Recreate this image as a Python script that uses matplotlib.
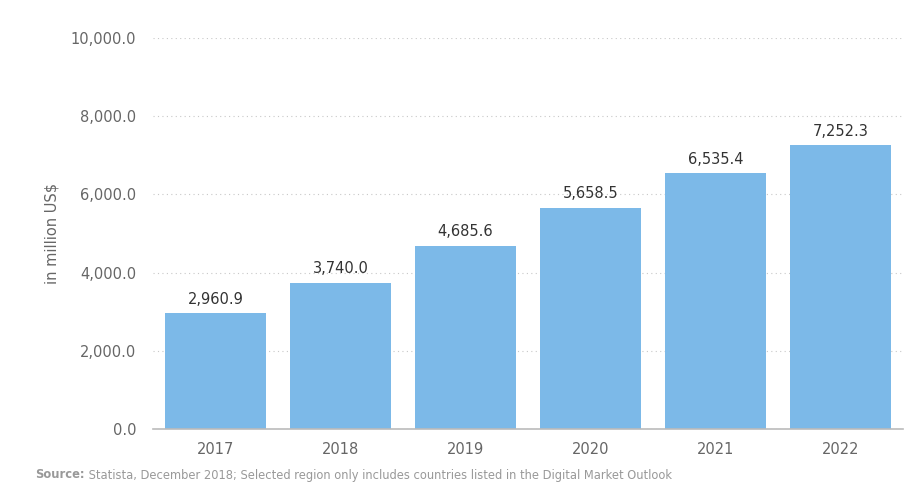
import numpy as np
import matplotlib.pyplot as plt
from matplotlib.ticker import FuncFormatter

plt.rcParams['font.family'] = ['DejaVu Sans']

# Revenue per year, in million US$
years = ['2017', '2018', '2019', '2020', '2021', '2022']
revenue = [2960.9, 3740.0, 4685.6, 5658.5, 6535.4, 7252.3]

fig = plt.figure(figsize=(9.06, 5.0), dpi=100)
ax = fig.add_axes([0.1689, 0.142, 0.8278, 0.782])

x = np.arange(len(years))
ax.bar(x, revenue, width=0.81, color='#7cb9e8', zorder=2)

for xi, v in zip(x, revenue):
    ax.text(xi, v + 170, f'{v:,.1f}', ha='center', va='bottom',
            fontsize=10.5, color='#333333')

ax.set_xlim(-0.5, len(years) - 0.5)
ax.set_ylim(0, 10000)
ax.set_yticks(np.arange(0, 10001, 2000))
ax.yaxis.set_major_formatter(FuncFormatter(lambda v, p: f'{v:,.1f}'))
ax.set_xticks(x)
ax.set_xticklabels(years)

ax.grid(axis='y', linestyle=(0, (1, 3)), color='#c8c8c8', linewidth=0.8, zorder=0)
for s in ['top', 'right', 'left']:
    ax.spines[s].set_visible(False)
ax.spines['bottom'].set_color('#bbbbbb')
ax.spines['bottom'].set_linewidth(1.2)
ax.tick_params(axis='both', length=0, labelsize=10.5, colors='#666666')
ax.tick_params(axis='y', pad=12)
ax.tick_params(axis='x', pad=9)

ax.set_ylabel('in million US$', fontsize=10.5, color='#666666', labelpad=8)

src = fig.text(0.039, 0.043, 'Source:', fontsize=8.3, color='#999999', fontweight='bold')
ax.annotate(' Statista, December 2018; Selected region only includes countries listed in the Digital Market Outlook',
            xy=(1, 0), xycoords=src, va='bottom', ha='left',
            fontsize=8.3, color='#999999', annotation_clip=False)

fig.savefig('out.png', dpi=100)
